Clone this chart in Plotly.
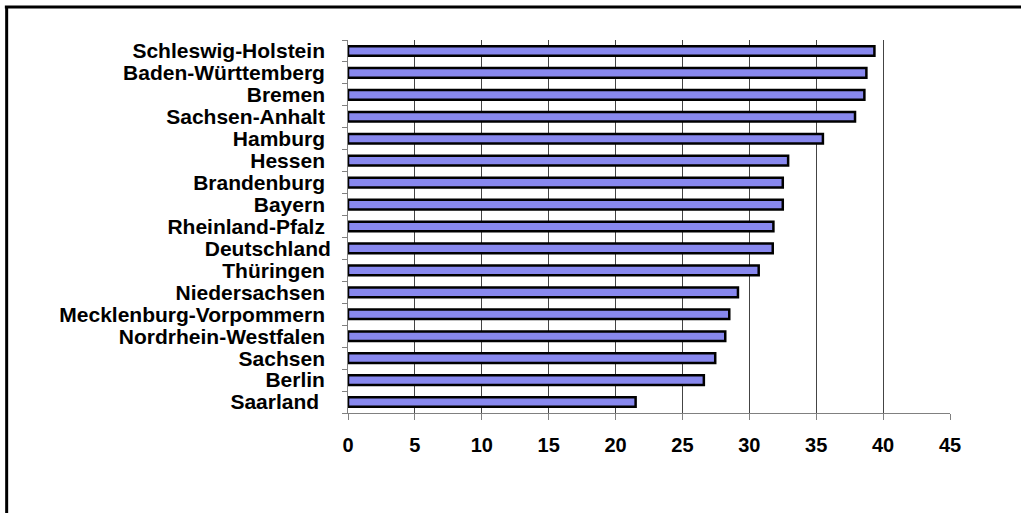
import plotly.graph_objects as go

NB = "\u00a0"
regions = ["Schleswig-Holstein", "Baden-Württemberg", "Bremen", "Sachsen-Anhalt",
           "Hamburg", "Hessen", "Brandenburg", "Bayern", "Rheinland-Pfalz",
           "Deutschland", "Thüringen", "Niedersachsen", "Mecklenburg-Vorpommern",
           "Nordrhein-Westfalen", "Sachsen", "Berlin", "Saarland"]
values = [39.35, 38.75, 38.6, 37.9, 35.5, 32.9, 32.5, 32.5, 31.8, 31.75,
          30.7, 29.15, 28.5, 28.2, 27.45, 26.6, 21.5]
trailing = [1, 1, 1, 1, 1, 1, 1, 1, 1, 0, 1, 1, 1, 1, 1, 1, 2]
labels = [r + NB * t for r, t in zip(regions, trailing)]
x_ticks = [0, 5, 10, 15, 20, 25, 30, 35, 40, 45]

font = dict(family="Liberation Sans, Arial, sans-serif", size=20, color="black", weight="bold")
yfont = dict(font, size=21)

fig = go.Figure(go.Bar(
    x=values, y=labels, orientation="h",
    marker=dict(color="#8888ee", line=dict(color="black", width=2.5)),
))

fig.update_layout(
    width=1021, height=513,
    margin=dict(l=348, r=71, t=40, b=100),
    paper_bgcolor="white", plot_bgcolor="white",
    bargap=0.56, showlegend=False,
    font=font,
    xaxis=dict(range=[0, 45], tickvals=x_ticks, showgrid=True, gridcolor="#444444",
               gridwidth=1, showline=True, linecolor="#808080", linewidth=1,
               ticks="outside", ticklen=6, tickcolor="#808080", tickfont=font,
               zeroline=False, ticklabelstandoff=8),
    yaxis=dict(autorange="reversed", showline=True, linecolor="#808080", linewidth=1,
               tickmode="array", tickvals=labels, ticktext=labels,
               ticks="outside", ticklen=5, tickcolor="#808080", tickson="boundaries",
               tickfont=yfont, ticklabelstandoff=12, showgrid=False),
    shapes=[
        dict(type="line", xref="paper", yref="paper", x0=-0.57, x1=1.3, y0=1.0885, y1=1.0885,
             line=dict(color="black", width=3)),
        dict(type="line", xref="paper", yref="paper", x0=-0.567, x1=-0.567, y0=1.0885, y1=-0.5,
             line=dict(color="black", width=3)),
    ],
)

fig.write_html("out.html")
